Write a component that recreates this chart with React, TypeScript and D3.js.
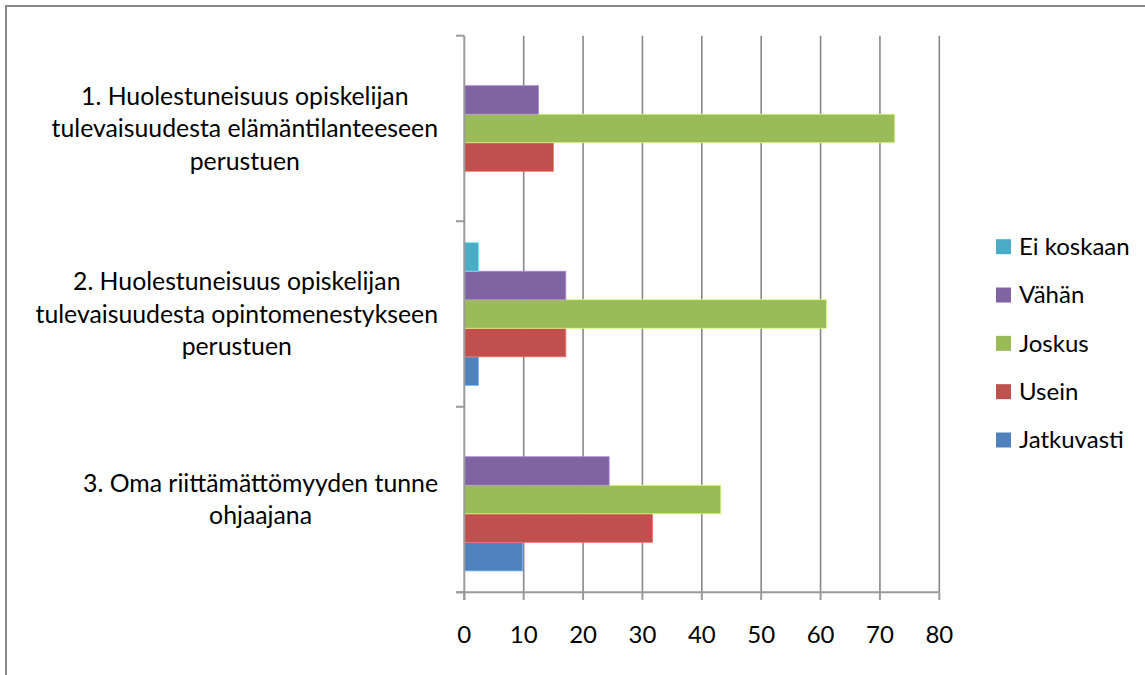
import React, { useEffect, useRef } from "react";
import * as d3 from "d3";

const categoryLines: string[][] = [
  ["1. Huolestuneisuus opiskelijan", "tulevaisuudesta elämäntilanteeseen", "perustuen"],
  ["2. Huolestuneisuus opiskelijan", "tulevaisuudesta opintomenestykseen", "perustuen"],
  ["3. Oma riittämättömyyden tunne", "ohjaajana"],
];
const categories = ["c1", "c2", "c3"];

const seriesNames = ["Jatkuvasti", "Usein", "Joskus", "Vähän", "Ei koskaan"];
const jatkuvasti = [0, 2.4, 9.8];
const usein = [15, 17.1, 31.7];
const joskus = [72.5, 61, 43.2];
const vahan = [12.5, 17.1, 24.4];
const eiKoskaan = [0, 2.4, 0];
const seriesValues = [jatkuvasti, usein, joskus, vahan, eiKoskaan];
const seriesColors = ["#4F81BD", "#C0504D", "#9BBB59", "#8064A2", "#4BACC6"];

const xTicks = [0, 10, 20, 30, 40, 50, 60, 70, 80];

const W = 1145;
const H = 675;
const FONT = "Lato, 'Open Sans', sans-serif";

export default function App() {
  const ref = useRef<SVGSVGElement | null>(null);

  useEffect(() => {
    const svg = d3.select(ref.current);
    svg.selectAll("*").remove();

    // chart border
    svg.append("rect")
      .attr("x", 6).attr("y", 6)
      .attr("width", W + 10).attr("height", H + 10)
      .attr("fill", "#fff").attr("stroke", "#898989").attr("stroke-width", 2);

    const x = d3.scaleLinear().domain([0, 80]).range([464.3, 939.3]);
    const y = d3.scaleBand<string>().domain(categories).range([35.7, 592.3]);
    const ySub = d3.scaleBand<string>()
      .domain([...seriesNames].reverse())
      .range([0, y.bandwidth()])
      .paddingInner(0)
      .paddingOuter(0.75);

    const gridColor = "#878787";

    svg.append("g").selectAll("line").data(xTicks.filter((t) => t > 0)).join("line")
      .attr("x1", (d) => x(d)).attr("x2", (d) => x(d))
      .attr("y1", 35.7).attr("y2", 592.3)
      .attr("stroke", gridColor).attr("stroke-width", 1.6);

    seriesNames.forEach((name, si) => {
      svg.append("g").selectAll("rect").data(seriesValues[si]).join("rect")
        .attr("x", x(0))
        .attr("y", (_d, i) => (y(categories[i]) as number) + (ySub(name) as number))
        .attr("width", (d) => x(d) - x(0))
        .attr("height", ySub.bandwidth())
        .attr("fill", seriesColors[si])
        .attr("stroke", (d) => (d > 0 ? (d3.color(seriesColors[si]) as d3.RGBColor).brighter(0.9).formatHex() : "none"))
        .attr("stroke-width", 0.8);
    });

    svg.append("line")
      .attr("x1", x(0)).attr("x2", x(0))
      .attr("y1", 35.7).attr("y2", 600)
      .attr("stroke", "#9a9a9a").attr("stroke-width", 2);
    const catBounds = [...categories.map((c) => y(c) as number), 592.3];
    svg.append("g").selectAll("line").data(catBounds).join("line")
      .attr("x1", 456).attr("x2", x(0))
      .attr("y1", (d) => d).attr("y2", (d) => d)
      .attr("stroke", "#9a9a9a").attr("stroke-width", 2);

    svg.append("line")
      .attr("x1", 456).attr("x2", x(80))
      .attr("y1", 592.3).attr("y2", 592.3)
      .attr("stroke", "#9a9a9a").attr("stroke-width", 2);
    svg.append("g").selectAll("line").data(xTicks).join("line")
      .attr("x1", (d) => x(d)).attr("x2", (d) => x(d))
      .attr("y1", 592.3).attr("y2", 600)
      .attr("stroke", "#9a9a9a").attr("stroke-width", 2);

    svg.append("g").selectAll("text").data(xTicks).join("text")
      .attr("x", (d) => x(d)).attr("y", 643)
      .attr("text-anchor", "middle")
      .attr("font-family", FONT).attr("font-size", 24)
      .attr("fill", "#000")
      .text((d) => String(d));

    const lineH = 32.5;
    categoryLines.forEach((lines, ci) => {
      const g = svg.append("g");
      const texts = g.selectAll("text").data(lines).join("text")
        .attr("font-family", FONT).attr("font-size", 24.8)
        .attr("fill", "#000")
        .attr("text-anchor", "middle")
        .text((d) => d);
      let maxW = 0;
      texts.each(function () {
        maxW = Math.max(maxW, (this as SVGTextElement).getComputedTextLength());
      });
      const cx = 438 - maxW / 2;
      const cy = (y(categories[ci]) as number) + y.bandwidth() / 2;
      const n = lines.length;
      texts
        .attr("x", cx)
        .attr("y", (_d, i) => cy + (i - (n - 1) / 2) * lineH)
        .attr("dy", "0.35em");
    });

    const legendOrder = [...seriesNames].reverse();
    const legendY = d3.scalePoint<string>().domain(legendOrder).range([246.7, 440]);
    const lg = svg.append("g");
    legendOrder.forEach((name) => {
      const si = seriesNames.indexOf(name);
      const cy = legendY(name) as number;
      lg.append("rect")
        .attr("x", 996).attr("y", cy - 7.5)
        .attr("width", 15).attr("height", 15)
        .attr("fill", seriesColors[si]);
      lg.append("text")
        .attr("x", 1019).attr("y", cy)
        .attr("dy", "0.35em")
        .attr("font-family", FONT).attr("font-size", 24)
        .attr("fill", "#000")
        .text(name);
    });
  }, []);

  return (
    <svg
      ref={ref}
      width={W}
      height={H}
      style={{ position: "absolute", left: 0, top: 0, display: "block" }}
    />
  );
}
